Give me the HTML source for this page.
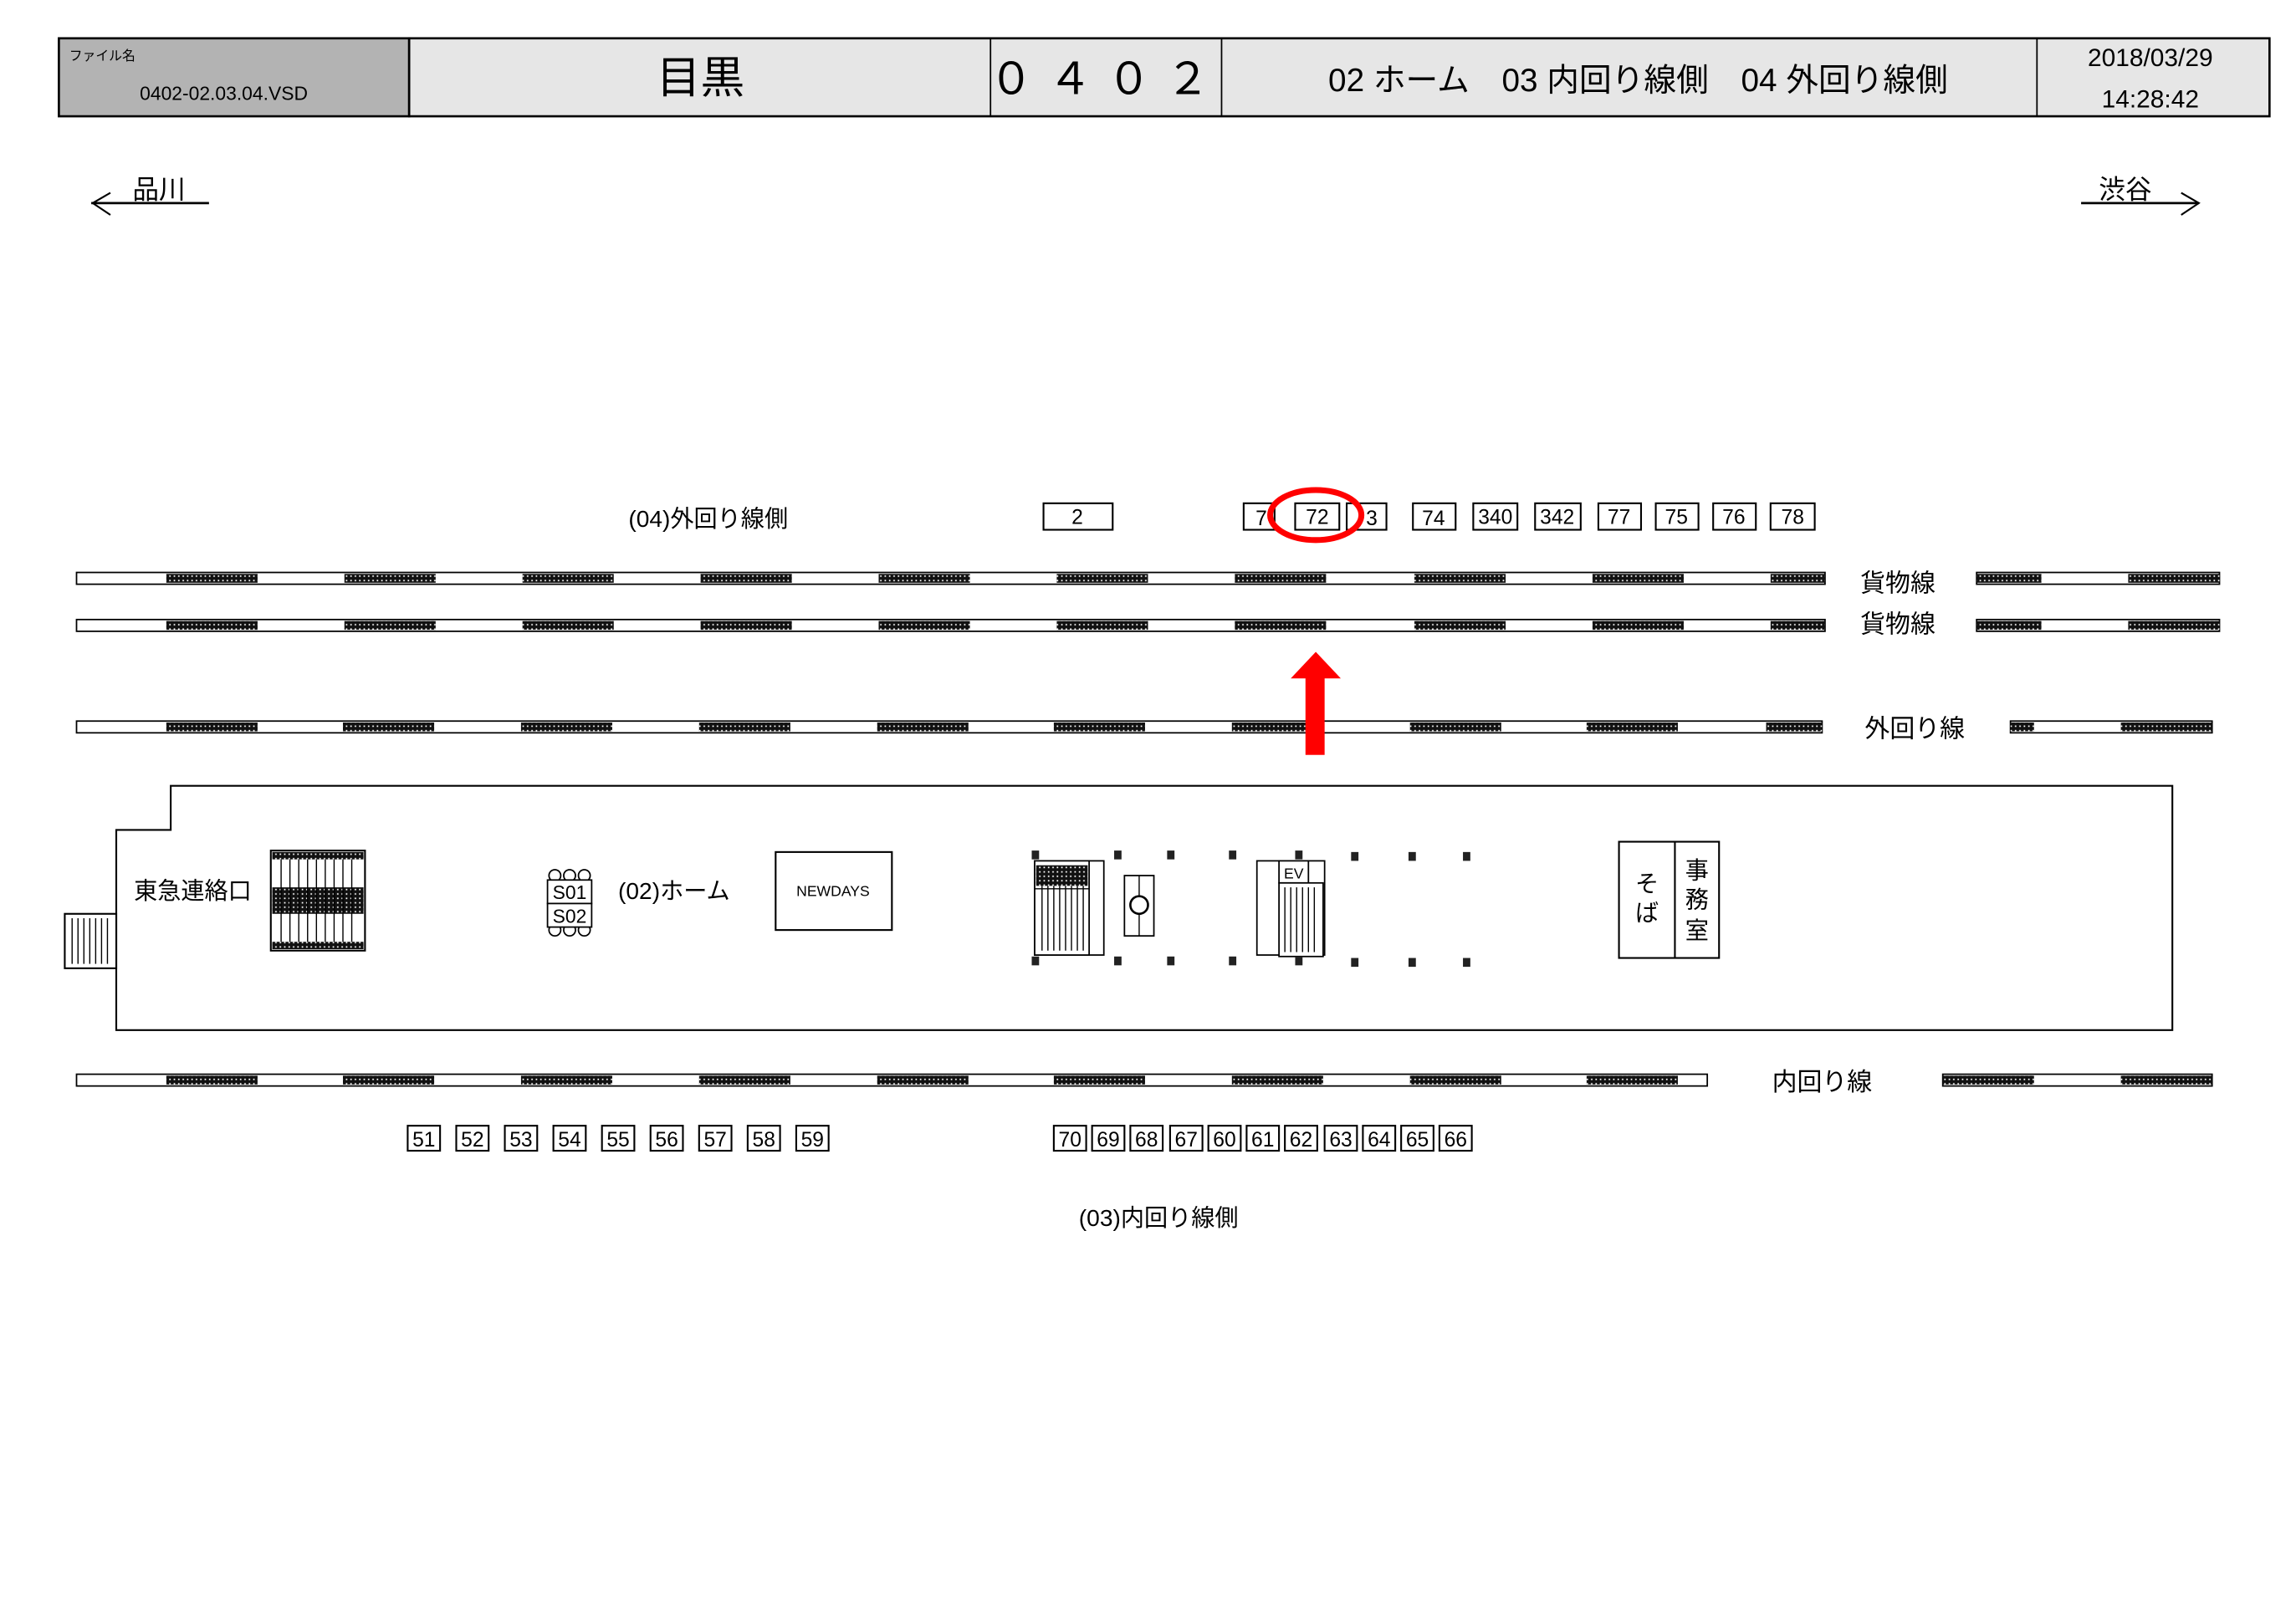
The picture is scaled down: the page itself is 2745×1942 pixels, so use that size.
<!DOCTYPE html>
<html><head><meta charset="utf-8"><style>
html,body{margin:0;padding:0;background:#fff;}
svg{display:block;}
text{font-family:"Liberation Sans","Noto Sans CJK JP",sans-serif;fill:#000;}
</style></head><body>
<svg width="2745" height="1942" viewBox="0 0 1560 1103.6" xmlns="http://www.w3.org/2000/svg">
<defs>
<pattern id="dot" width="3" height="3" patternUnits="userSpaceOnUse">
<rect width="3" height="3" fill="#111"/><rect x="1" y="1" width="1" height="1" fill="#fff"/>
</pattern>
</defs>
<!-- header -->
<rect x="40" y="26" width="238" height="53" fill="#b3b3b3" stroke="#000" stroke-width="1.5"/>
<rect x="278" y="26" width="1264" height="53" fill="#e6e6e6" stroke="#000" stroke-width="1.5"/>
<line x1="673" y1="26" x2="673" y2="79" stroke="#000"/>
<line x1="830" y1="26" x2="830" y2="79" stroke="#000"/>
<line x1="1384" y1="26" x2="1384" y2="79" stroke="#000"/>
<text x="47" y="41" font-size="9">ファイル名</text>
<text x="95" y="68" font-size="13">0402-02.03.04.VSD</text>
<text x="476" y="63" font-size="30" text-anchor="middle">目黒</text>
<text x="752" y="64" font-size="30" text-anchor="middle" letter-spacing="10">０４０２</text>
<text x="1113" y="62" font-size="22" text-anchor="middle">02 ホーム　03 内回り線側　04 外回り線側</text>
<text x="1461" y="45" font-size="17" text-anchor="middle">2018/03/29</text>
<text x="1461" y="73" font-size="17" text-anchor="middle">14:28:42</text>
<!-- direction arrows -->
<text x="90" y="135" font-size="18">品川</text>
<line x1="62" y1="138" x2="142" y2="138" stroke="#000" stroke-width="1.5"/>
<polyline points="75,131 63,138 75,146" fill="none" stroke="#000" stroke-width="1.2"/>
<text x="1426" y="135" font-size="18">渋谷</text>
<line x1="1414" y1="138" x2="1494" y2="138" stroke="#000" stroke-width="1.5"/>
<polyline points="1482,131 1494,138 1482,146" fill="none" stroke="#000" stroke-width="1.2"/>
<!-- tracks -->
<g stroke="#000" stroke-width="1">
<rect x="52" y="389" width="1188" height="8" fill="#fff"/>
<rect x="1343" y="389" width="165" height="8" fill="#fff"/>
<rect x="52" y="421" width="1188" height="8" fill="#fff"/>
<rect x="1343" y="421" width="165" height="8" fill="#fff"/>
<rect x="52" y="490" width="1186" height="8" fill="#fff"/>
<rect x="1366" y="490" width="137" height="8" fill="#fff"/>
<rect x="52" y="730" width="1108" height="8" fill="#fff"/>
<rect x="1320" y="730" width="183" height="8" fill="#fff"/>
</g>
<g fill="url(#dot)">
<rect x="113" y="390" width="62" height="6"/><rect x="234" y="390" width="62" height="6"/><rect x="355" y="390" width="62" height="6"/><rect x="476" y="390" width="62" height="6"/><rect x="597" y="390" width="62" height="6"/><rect x="718" y="390" width="62" height="6"/><rect x="839" y="390" width="62" height="6"/><rect x="961" y="390" width="62" height="6"/><rect x="1082" y="390" width="62" height="6"/><rect x="1203" y="390" width="37" height="6"/>
<rect x="1343" y="390" width="44" height="6"/><rect x="1446" y="390" width="62" height="6"/>
<rect x="113" y="422" width="62" height="6"/><rect x="234" y="422" width="62" height="6"/><rect x="355" y="422" width="62" height="6"/><rect x="476" y="422" width="62" height="6"/><rect x="597" y="422" width="62" height="6"/><rect x="718" y="422" width="62" height="6"/><rect x="839" y="422" width="62" height="6"/><rect x="961" y="422" width="62" height="6"/><rect x="1082" y="422" width="62" height="6"/><rect x="1203" y="422" width="37" height="6"/>
<rect x="1343" y="422" width="44" height="6"/><rect x="1446" y="422" width="62" height="6"/>
<rect x="113" y="491" width="62" height="6"/><rect x="233" y="491" width="62" height="6"/><rect x="354" y="491" width="62" height="6"/><rect x="475" y="491" width="62" height="6"/><rect x="596" y="491" width="62" height="6"/><rect x="716" y="491" width="62" height="6"/><rect x="837" y="491" width="62" height="6"/><rect x="958" y="491" width="62" height="6"/><rect x="1078" y="491" width="62" height="6"/><rect x="1200" y="491" width="38" height="6"/>
<rect x="1366" y="491" width="16" height="6"/><rect x="1441" y="491" width="62" height="6"/>
<rect x="113" y="731" width="62" height="6"/><rect x="233" y="731" width="62" height="6"/><rect x="354" y="731" width="62" height="6"/><rect x="475" y="731" width="62" height="6"/><rect x="596" y="731" width="62" height="6"/><rect x="716" y="731" width="62" height="6"/><rect x="837" y="731" width="62" height="6"/><rect x="958" y="731" width="62" height="6"/><rect x="1078" y="731" width="62" height="6"/>
<rect x="1320" y="731" width="62" height="6"/><rect x="1441" y="731" width="62" height="6"/>
</g>
<text x="1264" y="402" font-size="17">貨物線</text>
<text x="1264" y="430" font-size="17">貨物線</text>
<text x="1267" y="501" font-size="17">外回り線</text>
<text x="1204" y="741" font-size="17">内回り線</text>
<!-- upper boxes -->
<text x="427" y="358" font-size="16">(04)外回り線側</text>
<g fill="#fff" stroke="#000" stroke-width="1.2">
<rect x="709" y="342" width="47" height="18"/>
<rect x="845" y="342" width="21" height="18"/><rect x="880" y="342" width="30" height="18"/><rect x="915" y="342" width="27" height="18"/>
<rect x="960" y="342" width="29" height="18"/><rect x="1001" y="342" width="30" height="18"/><rect x="1043" y="342" width="31" height="18"/><rect x="1086" y="342" width="29" height="18"/><rect x="1125" y="342" width="29" height="18"/><rect x="1164" y="342" width="29" height="18"/><rect x="1203" y="342" width="30" height="18"/>
</g>
<g font-size="14" text-anchor="middle">
<text x="732" y="356">2</text><text x="857" y="357">7</text><text x="895" y="356">72</text><text x="932" y="357">3</text>
<text x="974" y="357">74</text><text x="1016" y="356">340</text><text x="1058" y="356">342</text><text x="1100" y="356">77</text><text x="1139" y="356">75</text><text x="1178" y="356">76</text><text x="1218" y="356">78</text>
</g>
<ellipse cx="894" cy="350" rx="31" ry="17" fill="none" stroke="#f00" stroke-width="4"/>
<rect x="887" y="460" width="13" height="53" fill="#f00"/>
<polygon points="877,461 894,443 911,461" fill="#f00"/>
<!-- platform -->
<polygon points="116,534 1476,534 1476,700 79,700 79,564 116,564" fill="#fff" stroke="#000" stroke-width="1.2"/>
<rect x="44" y="621" width="35" height="37" fill="#fff" stroke="#000" stroke-width="1.2"/>
<g stroke="#000" stroke-width="0.8"><line x1="49" y1="624" x2="49" y2="655"/><line x1="53" y1="624" x2="53" y2="655"/><line x1="57" y1="624" x2="57" y2="655"/><line x1="61" y1="624" x2="61" y2="655"/><line x1="65" y1="624" x2="65" y2="655"/><line x1="69" y1="624" x2="69" y2="655"/><line x1="73" y1="624" x2="73" y2="655"/></g>
<text x="91" y="611" font-size="16">東急連絡口</text>
<rect x="184" y="578" width="64" height="68" fill="#fff" stroke="#000" stroke-width="1.2"/>
<rect x="185" y="579" width="62" height="5" fill="url(#dot)"/>
<rect x="185" y="603" width="62" height="18" fill="url(#dot)"/>
<rect x="185" y="640" width="62" height="5" fill="url(#dot)"/>
<g stroke="#000" stroke-width="0.8"><line x1="191" y1="584" x2="191" y2="640"/><line x1="197" y1="584" x2="197" y2="640"/><line x1="203" y1="584" x2="203" y2="640"/><line x1="209" y1="584" x2="209" y2="640"/><line x1="215" y1="584" x2="215" y2="640"/><line x1="221" y1="584" x2="221" y2="640"/><line x1="227" y1="584" x2="227" y2="640"/><line x1="233" y1="584" x2="233" y2="640"/><line x1="239" y1="584" x2="239" y2="640"/></g>
<g fill="#fff" stroke="#000" stroke-width="1">
<circle cx="377" cy="595" r="4"/><circle cx="387" cy="595" r="4"/><circle cx="397" cy="595" r="4"/>
<circle cx="377" cy="632" r="4"/><circle cx="387" cy="632" r="4"/><circle cx="397" cy="632" r="4"/>
<rect x="372" y="598" width="30" height="16"/><rect x="372" y="614" width="30" height="16"/>
</g>
<text x="387" y="611" font-size="13" text-anchor="middle">S01</text>
<text x="387" y="627" font-size="13" text-anchor="middle">S02</text>
<text x="420" y="611" font-size="16">(02)ホーム</text>
<rect x="527" y="579" width="79" height="53" fill="#fff" stroke="#000" stroke-width="1.2"/>
<text x="566" y="609" font-size="10" text-anchor="middle">NEWDAYS</text>
<!-- escalator -->
<rect x="703" y="585" width="47" height="64" fill="#fff" stroke="#000"/>
<rect x="703" y="585" width="37" height="64" fill="#fff" stroke="#000"/>
<rect x="704" y="588" width="35" height="14" fill="url(#dot)"/>
<g stroke="#000" stroke-width="0.8"><line x1="708" y1="602" x2="708" y2="646"/><line x1="712" y1="602" x2="712" y2="646"/><line x1="716" y1="602" x2="716" y2="646"/><line x1="720" y1="602" x2="720" y2="646"/><line x1="724" y1="602" x2="724" y2="646"/><line x1="728" y1="602" x2="728" y2="646"/><line x1="732" y1="602" x2="732" y2="646"/><line x1="736" y1="602" x2="736" y2="646"/><line x1="703" y1="604" x2="740" y2="604"/></g>
<rect x="764" y="595" width="20" height="41" fill="#fff" stroke="#000"/>
<line x1="774" y1="595" x2="774" y2="636" stroke="#000" stroke-width="0.8"/>
<circle cx="774" cy="615" r="6" fill="#fff" stroke="#000" stroke-width="1.5"/>
<rect x="854" y="585" width="46" height="64" fill="#fff" stroke="#000"/>
<rect x="869" y="585" width="20" height="15" fill="#fff" stroke="#000"/>
<text x="879" y="597" font-size="10" text-anchor="middle">EV</text>
<rect x="869" y="600" width="30" height="50" fill="#fff" stroke="#000"/>
<g stroke="#000" stroke-width="0.8"><line x1="873" y1="603" x2="873" y2="647"/><line x1="877" y1="603" x2="877" y2="647"/><line x1="881" y1="603" x2="881" y2="647"/><line x1="885" y1="603" x2="885" y2="647"/><line x1="889" y1="603" x2="889" y2="647"/><line x1="893" y1="603" x2="893" y2="647"/></g>
<g fill="#222">
<rect x="701" y="578" width="5" height="6"/><rect x="757" y="578" width="5" height="6"/><rect x="793" y="578" width="5" height="6"/><rect x="835" y="578" width="5" height="6"/><rect x="880" y="578" width="5" height="6"/><rect x="918" y="579" width="5" height="6"/><rect x="957" y="579" width="5" height="6"/><rect x="994" y="579" width="5" height="6"/>
<rect x="701" y="650" width="5" height="6"/><rect x="757" y="650" width="5" height="6"/><rect x="793" y="650" width="5" height="6"/><rect x="835" y="650" width="5" height="6"/><rect x="880" y="650" width="5" height="6"/><rect x="918" y="651" width="5" height="6"/><rect x="957" y="651" width="5" height="6"/><rect x="994" y="651" width="5" height="6"/>
</g>
<rect x="1100" y="572" width="68" height="79" fill="#fff" stroke="#000" stroke-width="1.2"/>
<line x1="1138" y1="572" x2="1138" y2="651" stroke="#000" stroke-width="1.2"/>
<text x="1119" y="606" font-size="16" text-anchor="middle">そ</text>
<text x="1119" y="626" font-size="16" text-anchor="middle">ば</text>
<text x="1153" y="597" font-size="16" text-anchor="middle">事</text>
<text x="1153" y="617" font-size="16" text-anchor="middle">務</text>
<text x="1153" y="638" font-size="16" text-anchor="middle">室</text>
<!-- lower boxes -->
<g fill="#fff" stroke="#000" stroke-width="1.2">
<rect x="277" y="765" width="22" height="17"/><rect x="310" y="765" width="22" height="17"/><rect x="343" y="765" width="22" height="17"/><rect x="376" y="765" width="22" height="17"/><rect x="409" y="765" width="22" height="17"/><rect x="442" y="765" width="22" height="17"/><rect x="475" y="765" width="22" height="17"/><rect x="508" y="765" width="22" height="17"/><rect x="541" y="765" width="22" height="17"/>
<rect x="716" y="765" width="22" height="17"/><rect x="742" y="765" width="22" height="17"/><rect x="768" y="765" width="22" height="17"/><rect x="795" y="765" width="22" height="17"/><rect x="821" y="765" width="22" height="17"/><rect x="847" y="765" width="22" height="17"/><rect x="873" y="765" width="22" height="17"/><rect x="900" y="765" width="22" height="17"/><rect x="926" y="765" width="22" height="17"/><rect x="952" y="765" width="22" height="17"/><rect x="978" y="765" width="22" height="17"/>
</g>
<g font-size="14" text-anchor="middle">
<text x="288" y="779">51</text><text x="321" y="779">52</text><text x="354" y="779">53</text><text x="387" y="779">54</text><text x="420" y="779">55</text><text x="453" y="779">56</text><text x="486" y="779">57</text><text x="519" y="779">58</text><text x="552" y="779">59</text>
<text x="727" y="779">70</text><text x="753" y="779">69</text><text x="779" y="779">68</text><text x="806" y="779">67</text><text x="832" y="779">60</text><text x="858" y="779">61</text><text x="884" y="779">62</text><text x="911" y="779">63</text><text x="937" y="779">64</text><text x="963" y="779">65</text><text x="989" y="779">66</text>
</g>
<text x="733" y="833" font-size="16">(03)内回り線側</text>
</svg>
</body></html>
